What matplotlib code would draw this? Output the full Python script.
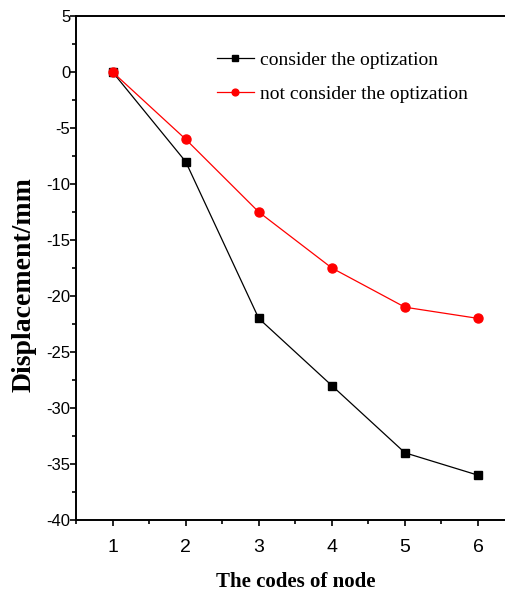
import numpy as np
import matplotlib
matplotlib.use("Agg")
import matplotlib.pyplot as plt
from matplotlib.ticker import MultipleLocator

nodes = [1, 2, 3, 4, 5, 6]
optimized = [0, -8, -22, -28, -34, -36]
not_optimized = [0, -6, -12.5, -17.5, -21, -22]
labels = ["consider the optization", "not consider the optization"]


def main():
    plt.rcParams['axes.unicode_minus'] = False
    fig = plt.figure(figsize=(5.05, 5.94), dpi=100)
    ax = fig.add_axes([76 / 505, 74 / 594, (514.6 - 76) / 505, 504 / 594])

    ax.plot(nodes, optimized, '-', color='black', lw=0.9, marker='s',
            markersize=6, label=labels[0])
    ax.plot(nodes, not_optimized, '-', color='red', lw=0.9, marker='o',
            markersize=6.5, label=labels[1])

    ax.set_xlim(0.5, 6.5)
    ax.set_ylim(-40, 5)
    ax.xaxis.set_major_locator(MultipleLocator(1))
    ax.xaxis.set_minor_locator(MultipleLocator(0.5))
    ax.yaxis.set_major_locator(MultipleLocator(5))
    ax.yaxis.set_minor_locator(MultipleLocator(2.5))

    for s in ['left', 'bottom', 'top']:
        ax.spines[s].set_linewidth(1.4)
    ax.spines['right'].set_visible(False)

    ax.tick_params(axis='both', which='both', direction='out', top=False, right=False, width=1.2)
    ax.tick_params(axis='both', which='major', length=4)
    ax.tick_params(axis='both', which='minor', length=3)
    ax.tick_params(axis='y', pad=0)
    ax.tick_params(axis='x', pad=10)
    for t in ax.get_yticklabels():
        t.set_fontfamily('Liberation Sans')
        t.set_fontsize(12)
    for t in ax.get_xticklabels():
        t.set_fontfamily('Liberation Sans')
        t.set_fontsize(14)

    ax.set_xlabel("The codes of node", fontfamily='Liberation Serif', fontweight='bold',
                  fontsize=15)
    ax.xaxis.set_label_coords(0.5, -(572 - 520) / 504)
    ax.set_ylabel("Displacement/mm", fontfamily='Liberation Serif', fontweight='bold',
                  fontsize=20)
    ax.yaxis.set_label_coords((37 - 76) / 438.6, (520 - 285) / 504)

    leg = ax.legend(loc='upper left', bbox_to_anchor=(217 / 505, 1 - 51 / 594),
                    bbox_transform=fig.transFigure, frameon=False, borderpad=0,
                    borderaxespad=0, handlelength=1.9, handletextpad=0.3,
                    labelspacing=0.86, markerscale=0.75,
                    prop={'family': 'Liberation Serif', 'size': 14})

    fig.savefig('out.png', dpi=100)


if __name__ == '__main__':
    main()
